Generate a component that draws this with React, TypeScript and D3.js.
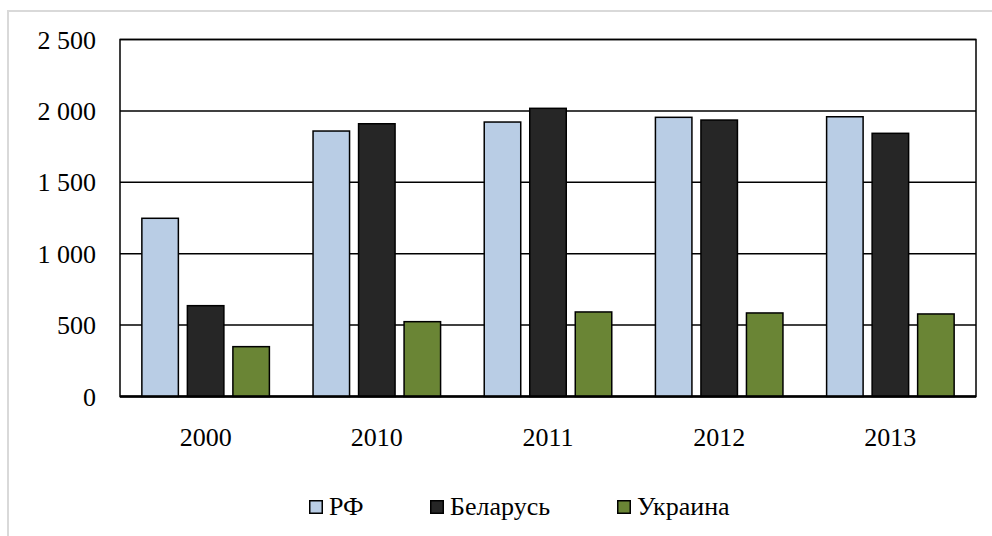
import React from "react";
import * as d3 from "d3";

const years = ["2000", "2010", "2011", "2012", "2013"];
const seriesNames = ["РФ", "Беларусь", "Украина"];
const rfValues = [1248, 1859, 1922, 1955, 1959];
const belarusValues = [636, 1910, 2018, 1936, 1843];
const ukraineValues = [349, 524, 592, 585, 578];
const yTicks = [0, 500, 1000, 1500, 2000, 2500];
const colors = ["#b9cde5", "#262626", "#6a8535"];

const fmt = (v: number) => d3.format(",")(v).replace(/,/g, " ");

const width = 992;
const height = 536;
const margin = { top: 39.5, right: 16, bottom: 139.5, left: 120 };
const innerW = width - margin.left - margin.right;
const innerH = height - margin.top - margin.bottom;
const font = "Liberation Serif";
const values = [rfValues, belarusValues, ukraineValues];

const x0 = d3.scaleBand()
  .domain(years)
  .range([0, innerW])
  .paddingInner(0.255)
  .paddingOuter(0.1277);

const x1 = d3.scaleBand()
  .domain(seriesNames)
  .range([0, x0.bandwidth()])
  .paddingInner(0.198)
  .paddingOuter(0);

const y = d3.scaleLinear().domain([0, 2500]).range([innerH, 0]);

// legend item x offsets
const legendX = [309, 430, 617];

const App = () => {
  const textStyle = { fontFamily: font, fontSize: 26 };
  return (
    <svg
      width={width}
      height={height}
      style={{ position: "absolute", left: 0, top: 0, display: "block" }}
    >
      <rect width={width} height={height} fill="#fff" />
      {/* outer chart frame */}
      <rect x={8} y={11} width={1100} height={700} fill="none" stroke="#d9d9d9" strokeWidth={2} />

      <g transform={`translate(${margin.left},${margin.top})`}>
        {yTicks.map((t) => (
          <line key={"g" + t} x1={0} x2={innerW} y1={y(t)} y2={y(t)} stroke="#000" strokeWidth={1.5} />
        ))}
        <rect width={innerW} height={innerH} fill="none" stroke="#000" strokeWidth={1.5} />

        {yTicks.map((t) => (
          <text key={"y" + t} x={-24} y={y(t)} dy="0.35em" textAnchor="end" style={textStyle}>
            {fmt(t)}
          </text>
        ))}

        {years.map((yr, i) => (
          <g key={yr} transform={`translate(${x0(yr)},0)`}>
            {seriesNames.map((s, j) => (
              <rect
                key={s}
                x={x1(s)}
                y={y(values[j][i])}
                width={x1.bandwidth()}
                height={innerH - y(values[j][i])}
                fill={colors[j]}
                stroke="#000"
                strokeWidth={1.5}
              />
            ))}
          </g>
        ))}

        <line x1={0} x2={innerW} y1={innerH} y2={innerH} stroke="#000" strokeWidth={2.5} />

        {years.map((yr) => (
          <text
            key={"x" + yr}
            x={x0(yr)! + x0.bandwidth() / 2}
            y={innerH + 49}
            textAnchor="middle"
            style={textStyle}
          >
            {yr}
          </text>
        ))}
      </g>

      <g transform="translate(0,500)">
        {seriesNames.map((s, j) => (
          <g key={s} transform={`translate(${legendX[j]},0)`}>
            <rect x={0.75} y={0.75} width={12.5} height={12.5} fill={colors[j]} stroke="#000" strokeWidth={1.5} />
            <text x={20} y={15} style={textStyle}>{s}</text>
          </g>
        ))}
      </g>
    </svg>
  );
};

export default App;
